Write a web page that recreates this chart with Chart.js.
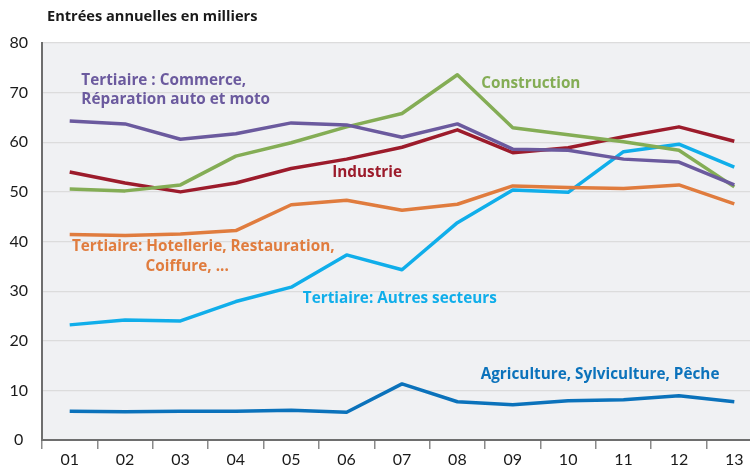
<!DOCTYPE html>
<html>
<head>
<meta charset="utf-8">
<script src="https://cdn.jsdelivr.net/npm/chart.js@4"></script>
<style>
  html, body { margin: 0; padding: 0; background: #fff; overflow: hidden; }
  #wrap { width: 762px; height: 466px; }
</style>
</head>
<body>
<div id="wrap"><canvas id="chart" width="762" height="466"></canvas></div>
<script>
const years = ["01", "02", "03", "04", "05", "06", "07", "08", "09", "10", "11", "12", "13"];
const commerce     = [64.3, 63.7, 60.6, 61.7, 63.9, 63.5, 61.0, 63.7, 58.6, 58.4, 56.6, 56.0, 51.4];
const industrie    = [54.0, 51.8, 50.0, 51.8, 54.7, 56.6, 59.0, 62.5, 57.9, 58.9, 61.1, 63.1, 60.2];
const construction = [50.6, 50.2, 51.4, 57.2, 59.9, 63.1, 65.8, 73.6, 62.9, 61.5, 60.1, 58.4, 51.0];
const hotellerie   = [41.4, 41.2, 41.5, 42.2, 47.4, 48.3, 46.3, 47.5, 51.2, 50.9, 50.7, 51.4, 47.6];
const autres       = [23.2, 24.2, 24.0, 27.9, 30.8, 37.3, 34.3, 43.8, 50.4, 49.9, 58.1, 59.6, 55.0];
const agriculture  = [5.8, 5.7, 5.8, 5.8, 6.0, 5.6, 11.3, 7.7, 7.1, 7.9, 8.1, 8.9, 7.7];
const yTicks = [0, 10, 20, 30, 40, 50, 60, 70, 80];

// text labels placed in data units (category index, value)
const notes = [
    { text: "Tertiaire : Commerce,", x: 0.21, y: 72.5, color: "#6b5a9e" },
    { text: "Réparation auto et moto", x: 0.21, y: 68.5, color: "#6b5a9e" },
    { text: "Construction", x: 7.43, y: 71.9, color: "#84ad55" },
    { text: "Industrie", x: 4.74, y: 53.8, color: "#9c1b2b" },
    { text: "Tertiaire: Hotellerie, Restauration,", x: 0.04, y: 38.9, color: "#e07c3e" },
    { text: "Coiffure, ...", x: 1.37, y: 34.9, color: "#e07c3e" },
    { text: "Tertiaire: Autres secteurs", x: 4.21, y: 28.4, color: "#10aeea" },
    { text: "Agriculture, Sylviculture, Pêche", x: 7.42, y: 13.1, color: "#0b72bb" }
];

const FONT = "Lato";
const NOTE_FONT = "'Open Sans'";

const decor = {
    id: "decor",
    beforeDraw(chart) {
        const { ctx, chartArea } = chart;
        ctx.save();
        ctx.fillStyle = "#f0f1f3";
        ctx.fillRect(chartArea.left, chartArea.top, chartArea.right - chartArea.left, chartArea.bottom - chartArea.top);
        ctx.restore();
    },
    afterDatasetsDraw(chart) {
        const { ctx, scales } = chart;
        ctx.save();
        ctx.textBaseline = "middle";
        ctx.textAlign = "left";
        ctx.font = "bold 15.3px " + NOTE_FONT;
        notes.forEach(n => {
            ctx.fillStyle = n.color;
            ctx.fillText(n.text, scales.x.getPixelForValue(n.x), scales.y.getPixelForValue(n.y));
        });
        ctx.fillStyle = "#1a1a1a";
        ctx.font = "bold 14.6px " + NOTE_FONT;
        ctx.fillText("Entrées annuelles en milliers", 47, 17);
        ctx.restore();
    }
};

function line(label, data, color) {
    return {
        label: label,
        data: data,
        borderColor: color,
        backgroundColor: color,
        borderWidth: 3.5,
        pointRadius: 0,
        tension: 0,
        borderJoinStyle: "round"
    };
}

new Chart(document.getElementById("chart"), {
    type: "line",
    data: {
        labels: years,
        datasets: [
            line("Tertiaire : Commerce, Réparation auto et moto", commerce, "#6b5a9e"),
            line("Construction", construction, "#84ad55"),
            line("Industrie", industrie, "#9c1b2b"),
            line("Tertiaire: Hotellerie, Restauration, Coiffure, ...", hotellerie, "#e07c3e"),
            line("Tertiaire: Autres secteurs", autres, "#10aeea"),
            line("Agriculture, Sylviculture, Pêche", agriculture, "#0b72bb")
        ]
    },
    options: {
        responsive: false,
        animation: false,
        layout: { padding: { top: 43, left: 0, right: 0, bottom: 0 } },
        plugins: {
            legend: { display: false },
            tooltip: { enabled: false }
        },
        scales: {
            x: {
                offset: true,
                grid: {
                    offset: true,
                    drawOnChartArea: false,
                    drawTicks: true,
                    tickLength: 9,
                    color: "#8a8a8a",
                    lineWidth: 1.5
                },
                border: { color: "#6e6e6e", width: 2 },
                ticks: { color: "#1a1a1a", font: { family: FONT, size: 16 }, padding: 1, maxRotation: 0 },
                afterFit(scale) { scale.height = 26; }
            },
            y: {
                min: 0,
                max: 80,
                afterBuildTicks(scale) { scale.ticks = yTicks.map(v => ({ value: v })); },
                grid: { color: "#dcdcdc", lineWidth: 1.2, drawTicks: false },
                border: { color: "#6e6e6e", width: 2 },
                ticks: { color: "#1a1a1a", font: { family: FONT, size: 16 }, padding: 14, crossAlign: "center" },
                afterFit(scale) { scale.width = 42; }
            }
        }
    },
    plugins: [decor]
});
</script>
</body>
</html>
